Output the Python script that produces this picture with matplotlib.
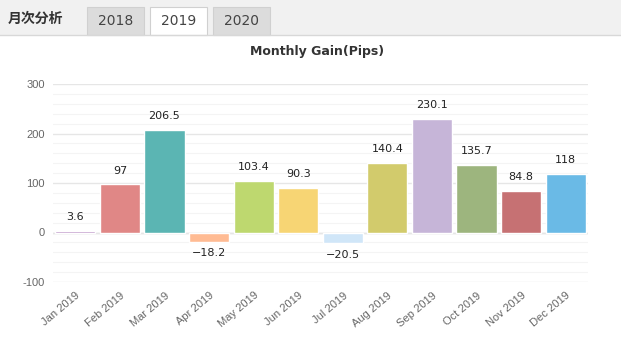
import matplotlib.pyplot as plt
from matplotlib.patches import Rectangle
import numpy as np

plt.rcParams['font.family'] = ['Noto Sans CJK JP', 'DejaVu Sans']
plt.rcParams['axes.unicode_minus'] = False

months = ['Jan 2019', 'Feb 2019', 'Mar 2019', 'Apr 2019', 'May 2019', 'Jun 2019',
          'Jul 2019', 'Aug 2019', 'Sep 2019', 'Oct 2019', 'Nov 2019', 'Dec 2019']
gains = [3.6, 97, 206.5, -18.2, 103.4, 90.3, -20.5, 140.4, 230.1, 135.7, 84.8, 118]
colors = ['#b98fc4', '#e08786', '#5bb5b3', '#ffbb93', '#bed86f', '#f7d574',
          '#d0e6f8', '#d2cb6c', '#c6b5d8', '#9db57e', '#c67173', '#6abae6']
tabs = ['2018', '2019', '2020']

W, H = 621, 351
fig = plt.figure(figsize=(W / 100, H / 100), dpi=100)

# header strip with tabs
fig.patches.append(Rectangle((0, 1 - 35 / H), 1, 35 / H, transform=fig.transFigure,
                             facecolor='#f1f1f1', edgecolor='none'))
fig.add_artist(plt.Line2D([0, 1], [1 - 35 / H, 1 - 35 / H], transform=fig.transFigure,
                          color='#d8d8d8', lw=1))
fig.text(8 / W, 1 - 19 / H, '月次分析', fontsize=10, fontweight='bold', color='#333333',
         va='center', ha='left')
tab_x = [87, 150, 213]
for t, x0 in zip(tabs, tab_x):
    sel = t == '2019'
    fc = '#ffffff' if sel else '#dcdcdc'
    fig.patches.append(Rectangle((x0 / W, 1 - 35 / H), 57 / W, 28 / H,
                                 transform=fig.transFigure, facecolor=fc,
                                 edgecolor='#d0d0d0', lw=0.8))
    fig.text((x0 + 28.5) / W, 1 - 21 / H, t, fontsize=10, color='#444444',
             ha='center', va='center', family=['DejaVu Sans'])

ax = fig.add_axes([53 / W, 1 - 282 / H, 535 / W, 198 / H])
x = np.arange(len(months))
ax.bar(x, gains, width=0.9, color=colors, edgecolor='white', linewidth=1, zorder=3)

for xi, v in zip(x, gains):
    lbl = ('%g' % v).replace('-', '\u2212')
    if v >= 0:
        ax.text(xi, v + 18, lbl, ha='center', va='bottom', fontsize=8,
                color='#222222', family=['DejaVu Sans'])
    else:
        ax.text(xi, v - 14, lbl, ha='center', va='top', fontsize=8,
                color='#222222', family=['DejaVu Sans'])

ax.set_xlim(-0.5, len(months) - 0.5)
ax.set_ylim(-100, 300)
ax.set_yticks([-100, 0, 100, 200, 300])
ax.set_yticks(np.arange(-100, 301, 20), minor=True)
ax.grid(axis='y', which='major', color='#e6e6e6', lw=1, zorder=0)
ax.grid(axis='y', which='minor', color='#f4f4f4', lw=0.8, zorder=0)
ax.set_xticks(x)
ax.set_xticklabels(months, rotation=40, ha='right', rotation_mode='anchor',
                   fontsize=8, color='#666666', family=['Liberation Sans'])
for lab in ax.get_yticklabels():
    lab.set_family(['Liberation Sans'])
ax.tick_params(axis='y', labelsize=8, labelcolor='#666666', length=0, pad=6)
ax.tick_params(axis='y', which='minor', length=0)
ax.tick_params(axis='x', length=0, pad=6)
for s in ax.spines.values():
    s.set_visible(False)
ax.axhline(0, color='#e0e0e0', lw=1, zorder=1)

fig.text(0.5 * (53 + 588) / W - 3 / W, 1 - 52 / H, 'Monthly Gain(Pips)', fontsize=9,
         fontweight='bold', color='#333333', ha='center', va='center',
         family=['DejaVu Sans'])

fig.savefig('out.png', dpi=100)
